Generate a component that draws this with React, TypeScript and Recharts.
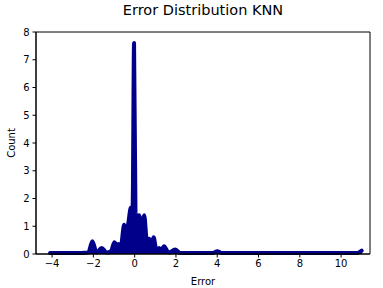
import { ComposedChart, Area, XAxis, YAxis, ReferenceArea } from "recharts"

// error values (x) and the smoothed count at each one (y)
const errors = [
  -4.1, -2.6, -2.25, -2.05, -1.84, -1.6, -1.35, -1.15, -0.98, -0.85, -0.79, -0.67,
  -0.51, -0.4, -0.3, -0.2, -0.1, -0.03, 0.04, 0.1, 0.21, 0.33, 0.46, 0.59, 0.7,
  0.8, 0.92, 1.05, 1.19, 1.28, 1.42, 1.65, 1.96, 2.2, 3.8, 4.0, 4.2, 10.8, 11.0,
]
const counts = [
  0.04, 0.04, 0.05, 0.46, 0.05, 0.22, 0.05, 0.1, 0.42, 0.3, 0.36, 0.28,
  1.05, 0.75, 1.15, 1.65, 1.7, 7.6, 1.5, 1.3, 1.4, 1.0, 1.4, 0.5, 0.55,
  0.35, 0.6, 0.15, 0.22, 0.1, 0.28, 0.05, 0.16, 0.04, 0.04, 0.1, 0.04, 0.04, 0.12,
]
const xTicks = [-4, -2, 0, 2, 4, 6, 8, 10]
const yTicks = [0, 1, 2, 3, 4, 5, 6, 7, 8]

const data = errors.map((e, i) => ({ error: e, count: counts[i] }))

const FONT = "DejaVu Sans, sans-serif"
const NAVY = "#00008B"
const X_DOMAIN: [number, number] = [-4.78, 11.4]

const fmt = (v: number) => String(v).replace("-", "\u2212")

export default function App() {
  return (
    <div style={{ position: "absolute", left: 0, top: 0, width: 383, height: 288, background: "#fff", fontFamily: FONT }}>
      <div style={{ position: "absolute", left: 36, width: 334, top: 0, textAlign: "center", fontSize: 14.5, lineHeight: "20px", color: "#000" }}>
        Error Distribution KNN
      </div>
      <ComposedChart width={383} height={288} data={data} margin={{ top: 32, right: 13, left: 0, bottom: 0 }}>
        <XAxis
          dataKey="error"
          type="number"
          domain={X_DOMAIN}
          ticks={xTicks}
          allowDataOverflow
          tickFormatter={fmt}
          height={34}
          stroke="#000"
          tickSize={3.5}
          tickMargin={2}
          tick={{ fontSize: 10, fill: "#000", fontFamily: FONT }}
          label={{ value: "Error", position: "insideBottom", offset: 3, fontSize: 10, fill: "#000", fontFamily: FONT }}
        />
        <YAxis
          type="number"
          domain={[0, 8]}
          ticks={yTicks}
          width={36}
          stroke="#000"
          tickSize={3.5}
          tickMargin={3}
          tick={{ fontSize: 10, fill: "#000", fontFamily: FONT }}
          label={{ value: "Count", angle: -90, position: "insideLeft", offset: 11, fontSize: 10, fill: "#000", fontFamily: FONT, style: { textAnchor: "middle" } }}
        />
        <Area
          dataKey="count"
          type="monotone"
          stroke={NAVY}
          strokeWidth={4}
          strokeLinejoin="round"
          strokeLinecap="round"
          fill={NAVY}
          fillOpacity={1}
          isAnimationActive={false}
          dot={false}
          activeDot={false}
        />
        <ReferenceArea x1={X_DOMAIN[0]} x2={X_DOMAIN[1]} y1={0} y2={8} fill="none" stroke="#000" strokeWidth={1} ifOverflow="visible" />
      </ComposedChart>
    </div>
  )
}
